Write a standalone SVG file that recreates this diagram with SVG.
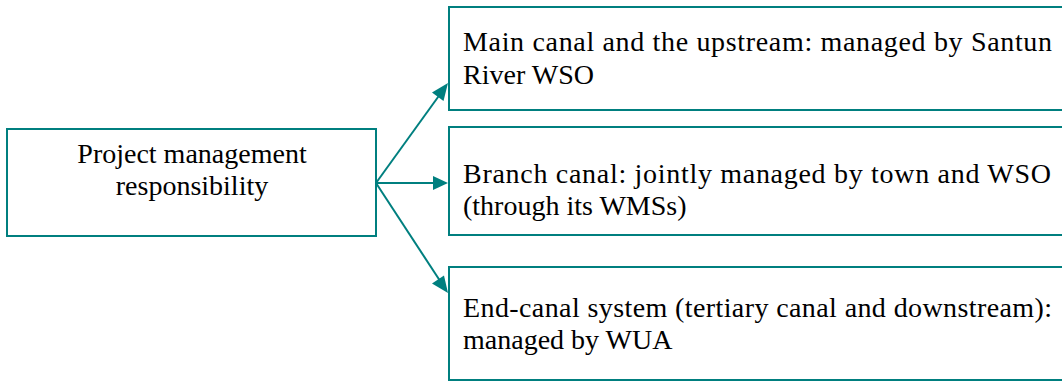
<svg xmlns="http://www.w3.org/2000/svg" width="1062" height="381" viewBox="0 0 1062 381">
<style>
.box{fill:#fff;stroke:#007f7f;stroke-width:2}
.t{font-family:"Liberation Serif","Times New Roman",serif;font-size:28px;fill:#000}
.c{stroke:#007f7f;stroke-width:2;fill:none}
.ah{fill:#007f7f}
</style>
<rect width="1062" height="381" fill="#fff"/>
<g id="n0">
<rect class="box" x="7" y="129" width="369" height="107"/>
<text class="t" x="192" y="163" text-anchor="middle">Project management</text>
<text class="t" x="192" y="195" text-anchor="middle">responsibility</text>
</g>
<g id="n1">
<rect class="box" x="449" y="7" width="620" height="103"/>
<text class="t" x="463" y="51" textLength="589" lengthAdjust="spacing">Main canal and the upstream: managed by Santun</text>
<text class="t" x="463" y="84">River WSO</text>
</g>
<g id="n2">
<rect class="box" x="449" y="127" width="620" height="108"/>
<text class="t" x="463" y="183" textLength="588" lengthAdjust="spacing">Branch canal: jointly managed by town and WSO</text>
<text class="t" x="463" y="215">(through its WMSs)</text>
</g>
<g id="n3">
<rect class="box" x="449" y="267" width="620" height="113"/>
<text class="t" x="463" y="317" textLength="589" lengthAdjust="spacing">End-canal system (tertiary canal and downstream):</text>
<text class="t" x="463" y="349">managed by WUA</text>
</g>
<g id="connectors">
<path class="c" d="M376,183 L446,86"/>
<path class="c" d="M376,183 L446,183"/>
<path class="c" d="M376,183 L446,290"/>
<polygon class="ah" points="448,83 443.5,101 432,92.5"/>
<polygon class="ah" points="448,183 433,176 433,190"/>
<polygon class="ah" points="448,293 432,283.5 444,275.5"/>
</g>
</svg>
